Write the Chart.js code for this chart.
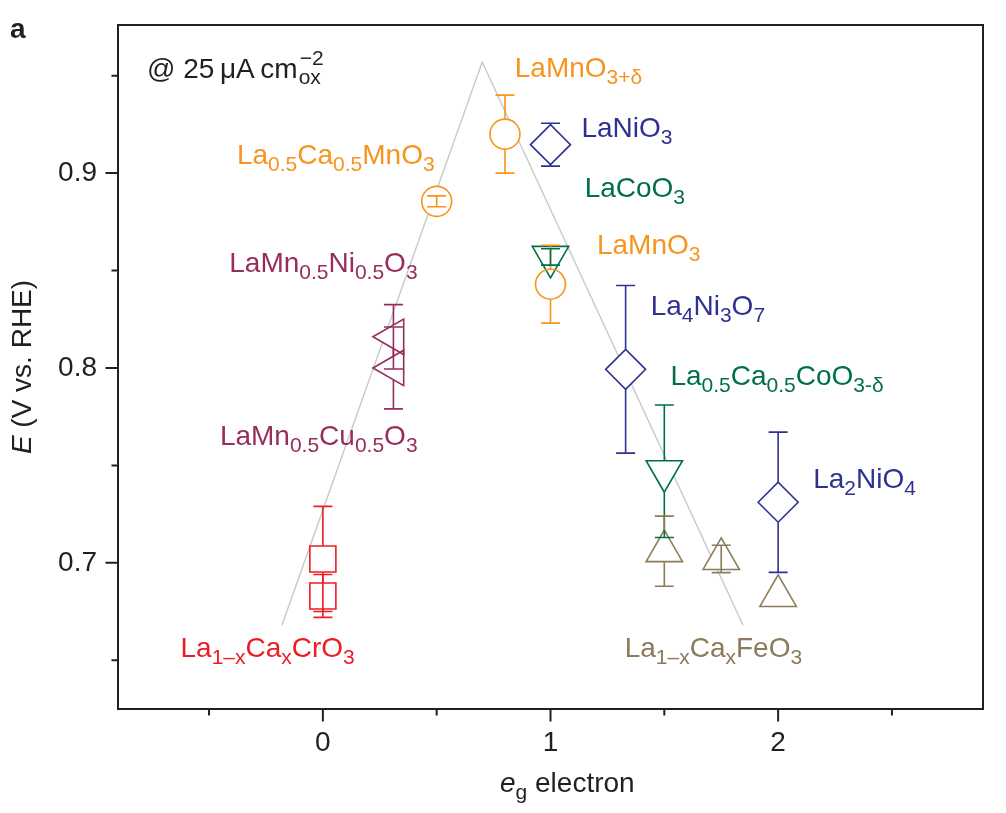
<!DOCTYPE html>
<html><head><meta charset="utf-8">
<script src="https://cdn.jsdelivr.net/npm/chart.js@4.4.0/dist/chart.umd.min.js"></script>
<style>html,body{margin:0;padding:0;background:#fff;}canvas{display:block;}</style>
</head><body>
<canvas id="c" width="1006" height="813"></canvas>
<script>
// ---------- data ----------
const crEg = [0, 0];            const crE = [0.702, 0.683];           const crErr = [0.027, 0.011];
const cuNiEg = [0.31, 0.31];    const cuNiE = [0.816, 0.800];         const cuNiErr = [0.0165, 0.021];
const mnEg = [0.5, 0.8, 1.0];   const mnE = [0.8855, 0.920, 0.843];   const mnErr = [0.0028, 0.020, 0.020];
const niEg = [1.0, 1.33, 2.0];  const niE = [0.9146, 0.7993, 0.7311]; const niErr = [0.011, 0.043, 0.036];
const coEg = [1.0, 1.5];        const coE = [0.857, 0.747];           const coErr = [0.0042, 0.034];
const feEg = [1.5, 1.75, 2.0];  const feE = [0.706, 0.702, 0.683];    const feErr = [0.018, 0.007, 0];
const volcanoEg = [-0.18, 0.70, 1.846];
const volcanoE  = [0.668, 0.957, 0.668];
const xMajorTicks = [0, 1, 2];
const xMinorTicks = [-0.5, 0.5, 1.5, 2.5];
const yMajorTicks = [0.7, 0.8, 0.9];
const yMinorTicks = [0.65, 0.75, 0.85, 0.95];

const C = {orange:'#f7941d', red:'#ed1c24', plum:'#972d5f', blue:'#2e3192', green:'#00704a', brown:'#8c7b5a', grey:'#c8c8c8', ink:'#231f20'};
const FONT = "'Liberation Sans', Arial, Helvetica, sans-serif";

const pts = (xs, ys) => xs.map((x, i) => ({x, y: ys[i]}));

function series(xs, ys, errs, color, style, rot, r) {
  return {data: pts(xs, ys), errors: errs, showLine: false, pointStyle: style, pointRotation: rot,
    pointRadius: r, pointHoverRadius: r, pointBorderColor: color, pointBackgroundColor: 'rgba(0,0,0,0)',
    pointBorderWidth: 1.6, borderColor: color, backgroundColor: 'rgba(0,0,0,0)', order: 1};
}
// white mask under each symbol so the guide line does not show through it
function mask(xs, ys, style, rot, r) {
  return {data: pts(xs, ys), showLine: false, pointStyle: style, pointRotation: rot,
    pointRadius: r, pointHoverRadius: r, pointBorderColor: '#ffffff', pointBackgroundColor: '#ffffff',
    pointBorderWidth: 0, order: 2};
}

// label texts: [text, 0=normal,1=sub]
const labels = [
  {p: [['LaMnO',0],['3+δ',1]], x: 0.843, y: 0.9492, align: 'left', c: C.orange},
  {p: [['LaNiO',0],['3',1]], x: 1.136, y: 0.9185, align: 'left', c: C.blue},
  {p: [['LaCoO',0],['3',1]], x: 1.150, y: 0.8877, align: 'left', c: C.green},
  {p: [['La',0],['0.5',1],['Ca',0],['0.5',1],['MnO',0],['3',1]], x: 0.491, y: 0.9045, align: 'right', c: C.orange},
  {p: [['LaMnO',0],['3',1]], x: 1.204, y: 0.8587, align: 'left', c: C.orange},
  {p: [['LaMn',0],['0.5',1],['Ni',0],['0.5',1],['O',0],['3',1]], x: 0.416, y: 0.849, align: 'right', c: C.plum},
  {p: [['La',0],['4',1],['Ni',0],['3',1],['O',0],['7',1]], x: 1.440, y: 0.827, align: 'left', c: C.blue},
  {p: [['La',0],['0.5',1],['Ca',0],['0.5',1],['CoO',0],['3-δ',1]], x: 1.527, y: 0.7911, align: 'left', c: C.green},
  {p: [['LaMn',0],['0.5',1],['Cu',0],['0.5',1],['O',0],['3',1]], x: 0.416, y: 0.7604, align: 'right', c: C.plum},
  {p: [['La',0],['2',1],['NiO',0],['4',1]], x: 2.154, y: 0.7382, align: 'left', c: C.blue},
  {p: [['La',0],['1–x',1],['Ca',0],['x',1],['CrO',0],['3',1]], x: -0.6255, y: 0.6515, align: 'left', c: C.red},
  {p: [['La',0],['1–x',1],['Ca',0],['x',1],['FeO',0],['3',1]], x: 1.326, y: 0.6518, align: 'left', c: C.brown}
];

const MAIN = 28, SUB = 21, SUBOFF = 7;
function partFont(k, italic) { return (italic ? 'italic ' : '') + (k ? SUB : MAIN) + 'px ' + FONT; }
function drawParts(ctx, parts, x, y, align, color) {
  ctx.save();
  ctx.fillStyle = color; ctx.textBaseline = 'alphabetic'; ctx.textAlign = 'left';
  let w = 0;
  parts.forEach(([t, k, it]) => { ctx.font = partFont(k, it); w += ctx.measureText(t).width; });
  let cx = align === 'right' ? x - w : (align === 'center' ? x - w / 2 : x);
  parts.forEach(([t, k, it]) => {
    ctx.font = partFont(k, it);
    const dy = k === 1 ? SUBOFF : (k === 2 ? -12 : 0);
    ctx.fillText(t, cx, y + dy);
    cx += ctx.measureText(t).width;
  });
  ctx.restore();
}

function halfExtent(style, rot, r) {
  if (style === 'rect') return [r * Math.SQRT1_2, r * Math.SQRT1_2];
  if (style === 'triangle') {
    if (rot === 180) return [r / 2, r];
    if (rot === 0) return [r, r / 2];
    return [r * 0.577, r * 0.577];
  }
  return [r, r];
}

const errorBarPlugin = {
  id: 'errorBars',
  afterDatasetsDraw(chart) {
    const ctx = chart.ctx, ys = chart.scales.y;
    chart.data.datasets.forEach((ds, di) => {
      if (!ds.errors) return;
      const meta = chart.getDatasetMeta(di);
      meta.data.forEach((pt, i) => {
        const e = ds.errors[i];
        if (!e) return;
        const v = ds.data[i].y;
        const yT = ys.getPixelForValue(v + e), yB = ys.getPixelForValue(v - e);
        const [up, dn] = halfExtent(ds.pointStyle, ds.pointRotation, ds.pointRadius);
        const x = pt.x, y = pt.y, cw = 9.5;
        ctx.save();
        ctx.strokeStyle = ds.borderColor; ctx.lineWidth = 1.6;
        ctx.beginPath();
        if (y - yT > up && yB - y > dn) {
          ctx.moveTo(x, y - up); ctx.lineTo(x, yT);
          ctx.moveTo(x, y + dn); ctx.lineTo(x, yB);
        } else {
          ctx.moveTo(x, yT); ctx.lineTo(x, yB);
        }
        ctx.moveTo(x - cw, yT); ctx.lineTo(x + cw, yT);
        ctx.moveTo(x - cw, yB); ctx.lineTo(x + cw, yB);
        ctx.stroke();
        ctx.restore();
      });
    });
  }
};

const decorPlugin = {
  id: 'decor',
  afterDraw(chart) {
    const ctx = chart.ctx, a = chart.chartArea, xs = chart.scales.x, ys = chart.scales.y;
    ctx.save();
    ctx.strokeStyle = C.ink; ctx.lineWidth = 2;
    ctx.strokeRect(a.left, a.top, a.right - a.left, a.bottom - a.top);
    ctx.beginPath();
    xMajorTicks.forEach(v => { const p = xs.getPixelForValue(v); ctx.moveTo(p, a.bottom); ctx.lineTo(p, a.bottom + 12.5); });
    xMinorTicks.forEach(v => { const p = xs.getPixelForValue(v); ctx.moveTo(p, a.bottom); ctx.lineTo(p, a.bottom + 6.5); });
    yMajorTicks.forEach(v => { const p = ys.getPixelForValue(v); ctx.moveTo(a.left, p); ctx.lineTo(a.left - 12.5, p); });
    yMinorTicks.forEach(v => { const p = ys.getPixelForValue(v); ctx.moveTo(a.left, p); ctx.lineTo(a.left - 6.5, p); });
    ctx.stroke();
    ctx.restore();

    labels.forEach(l => drawParts(ctx, l.p, xs.getPixelForValue(l.x), ys.getPixelForValue(l.y), l.align, l.c));

    // annotation
    ctx.save();
    ctx.fillStyle = C.ink; ctx.font = MAIN + 'px ' + FONT; ctx.textBaseline = 'alphabetic';
    const t = '@ 25\u2009μA\u2009cm';
    ctx.fillText(t, 147, 78);
    const w = ctx.measureText(t).width;
    ctx.font = SUB + 'px ' + FONT;
    ctx.fillText('ox', 147 + w + 1, 84);
    ctx.fillText('−2', 147 + w + 2, 65);
    // panel letter
    ctx.font = 'bold 28px ' + FONT;
    ctx.fillText('a', 10, 38);
    ctx.restore();

    // axis titles
    drawParts(ctx, [['e',0,true],['g',1],[' electron',0]], 500, 792, 'left', C.ink);
    ctx.save();
    ctx.translate(31, 367);
    ctx.rotate(-Math.PI / 2);
    drawParts(ctx, [['E',0,true],[' (V vs. RHE)',0]], 0, 0, 'center', C.ink);
    ctx.restore();
  }
};

const datasets = [
  series(crEg, crE, crErr, C.red, 'rect', 0, 18.4),
  series(cuNiEg, cuNiE, cuNiErr, C.plum, 'triangle', -90, 20.5),
  series(mnEg, mnE, mnErr, C.orange, 'circle', 0, 15),
  series(niEg, niE, niErr, C.blue, 'rectRot', 0, 20),
  series(coEg, coE, coErr, C.green, 'triangle', 180, 21),
  series(feEg, feE, feErr, C.brown, 'triangle', 0, 21),
  mask(crEg, crE, 'rect', 0, 18.4),
  mask(cuNiEg, cuNiE, 'triangle', -90, 20.5),
  mask(mnEg, mnE, 'circle', 0, 15),
  mask(niEg, niE, 'rectRot', 0, 20),
  mask(coEg, coE, 'triangle', 180, 21),
  mask(feEg, feE, 'triangle', 0, 21),
  {data: pts(volcanoEg, volcanoE), showLine: true, borderColor: C.grey, borderWidth: 1.4, pointRadius: 0, fill: false, order: 3}
];

new Chart(document.getElementById('c'), {
  type: 'scatter',
  data: {datasets},
  options: {
    responsive: false, animation: false, devicePixelRatio: 1,
    layout: {padding: {top: 25, right: 23, left: 0, bottom: 0}},
    plugins: {legend: {display: false}, tooltip: {enabled: false}},
    scales: {
      x: {
        type: 'linear', min: -0.9, max: 2.9,
        grid: {display: false, drawTicks: false}, border: {display: false},
        afterBuildTicks: s => { s.ticks = xMajorTicks.map(v => ({value: v})); },
        ticks: {color: C.ink, font: {family: FONT, size: 28}, padding: 17, autoSkip: false, maxRotation: 0, callback: v => String(v)},
        afterFit: s => { s.height = 104; s.paddingLeft = 0; s.paddingRight = 0; }
      },
      y: {
        type: 'linear', min: 0.625, max: 0.976,
        grid: {display: false, drawTicks: false}, border: {display: false},
        afterBuildTicks: s => { s.ticks = yMajorTicks.map(v => ({value: v})); },
        ticks: {color: C.ink, font: {family: FONT, size: 28}, padding: 21, autoSkip: false, callback: v => v.toFixed(1)},
        afterFit: s => { s.width = 118; s.paddingTop = 0; s.paddingBottom = 0; }
      }
    }
  },
  plugins: [errorBarPlugin, decorPlugin]
});
</script>
</body></html>
